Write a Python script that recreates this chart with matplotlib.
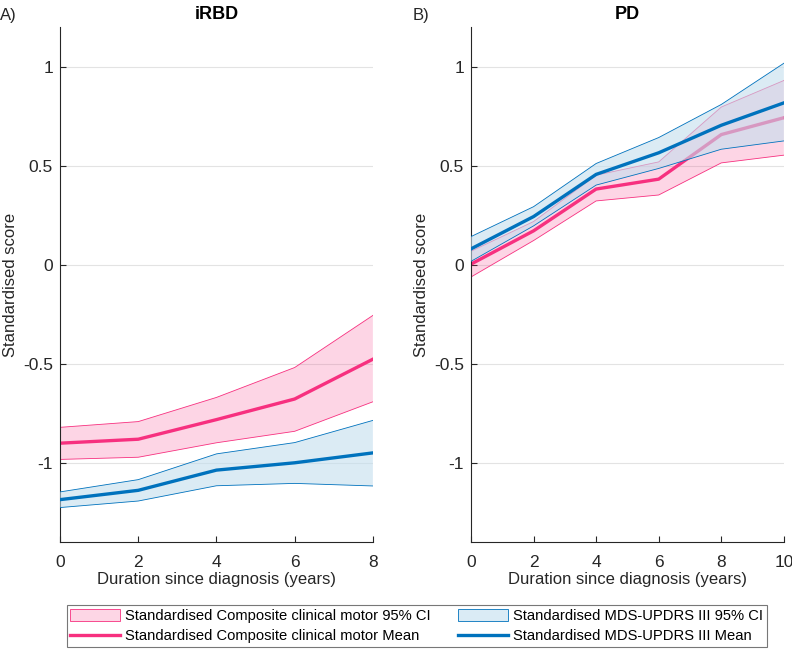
import matplotlib
matplotlib.use('Agg')
import matplotlib.pyplot as plt
import numpy as np
from matplotlib.patches import Patch
from matplotlib.lines import Line2D

plt.rcParams['font.family'] = ['Liberation Sans', 'DejaVu Sans']

# iRBD panel (years 0-8)
years_irbd = [0, 2, 4, 6, 8]
irbd_comp_mean = [-0.901, -0.881, -0.782, -0.678, -0.477]
irbd_comp_upper = [-0.821, -0.792, -0.670, -0.519, -0.256]
irbd_comp_lower = [-0.983, -0.972, -0.899, -0.841, -0.692]
irbd_updrs_mean = [-1.186, -1.139, -1.037, -1.000, -0.950]
irbd_updrs_upper = [-1.147, -1.085, -0.955, -0.898, -0.786]
irbd_updrs_lower = [-1.226, -1.193, -1.116, -1.104, -1.117]

# PD panel (years 0-10)
years_pd = [0, 2, 4, 6, 8, 10]
pd_comp_mean = [0.003, 0.171, 0.382, 0.432, 0.657, 0.742]
pd_comp_upper = [0.068, 0.218, 0.452, 0.519, 0.796, 0.930]
pd_comp_lower = [-0.062, 0.122, 0.322, 0.352, 0.514, 0.553]
pd_updrs_mean = [0.080, 0.243, 0.456, 0.565, 0.704, 0.817]
pd_updrs_upper = [0.142, 0.293, 0.511, 0.642, 0.809, 1.017]
pd_updrs_lower = [0.017, 0.196, 0.402, 0.486, 0.583, 0.625]

pink = '#F7307F'
blue = '#0072BD'
pink_fill = '#F7307F'   # at alpha 0.2 -> light pink
blue_fill = '#C3DEEE'   # at alpha 0.6 -> light blue over white
ink = '#262626'

fig = plt.figure(figsize=(7.92, 6.51), dpi=100)
ax1 = fig.add_axes([0.0758, 0.1674, 0.395, 0.7911])
ax2 = fig.add_axes([0.5947, 0.1674, 0.395, 0.7911])


def draw_panel(ax, x, cm, cu, cl, um, uu, ul, title, xmax):
    # composite first, then the MDS-UPDRS band laid over it
    ax.fill_between(x, cl, cu, facecolor=pink_fill, alpha=0.2, edgecolor='none', zorder=1)
    ax.plot(x, cu, color=pink, lw=0.6, zorder=2)
    ax.plot(x, cl, color=pink, lw=0.6, zorder=2)
    ax.plot(x, cm, color=pink, lw=2.4, solid_joinstyle='round', zorder=2)
    ax.fill_between(x, ul, uu, facecolor=blue_fill, alpha=0.6, edgecolor='none', zorder=3)
    ax.plot(x, uu, color=blue, lw=0.6, zorder=4)
    ax.plot(x, ul, color=blue, lw=0.6, zorder=4)
    ax.plot(x, um, color=blue, lw=2.4, solid_joinstyle='round', zorder=4)
    ax.set_xlim(0, xmax)
    ax.set_ylim(-1.4, 1.2)
    ax.set_xticks(x)
    ax.set_yticks([-1, -0.5, 0, 0.5, 1])
    ax.set_yticklabels(['-1', '-0.5', '0', '0.5', '1'])
    ax.yaxis.grid(True, color='#E3E3E3', lw=0.8)
    ax.set_axisbelow(True)
    for s in ['top', 'right']:
        ax.spines[s].set_visible(False)
    for s in ['left', 'bottom']:
        ax.spines[s].set_color(ink)
        ax.spines[s].set_linewidth(0.8)
    ax.tick_params(direction='in', length=4, width=0.8, colors=ink,
                   labelsize=12.5, pad=5)
    ax.tick_params(axis='x', pad=9)
    ax.set_title(title, fontsize=13, fontweight='bold', color='black', pad=6)
    ax.set_xlabel('Duration since diagnosis (years)', fontsize=12, color=ink, labelpad=2)
    ax.set_ylabel('Standardised score', fontsize=12, color=ink, labelpad=4)


draw_panel(ax1, years_irbd, irbd_comp_mean, irbd_comp_upper, irbd_comp_lower,
           irbd_updrs_mean, irbd_updrs_upper, irbd_updrs_lower, 'iRBD', 8)
draw_panel(ax2, years_pd, pd_comp_mean, pd_comp_upper, pd_comp_lower,
           pd_updrs_mean, pd_updrs_upper, pd_updrs_lower, 'PD', 10)

fig.text(0.0, 0.988, 'A)', fontsize=12, va='top', ha='left', color=ink)
fig.text(0.521, 0.988, 'B)', fontsize=12, va='top', ha='left', color=ink)

handles = [
    Patch(facecolor='#FDD6E5', edgecolor=pink, lw=0.6,
          label='Standardised Composite clinical motor 95% CI'),
    Line2D([0], [0], color=pink, lw=2.4, label='Standardised Composite clinical motor Mean'),
    Patch(facecolor='#DAEBF5', edgecolor=blue, lw=0.6,
          label='Standardised MDS-UPDRS III 95% CI'),
    Line2D([0], [0], color=blue, lw=2.4, label='Standardised MDS-UPDRS III Mean'),
]
leg = fig.legend(handles=handles, loc='center', bbox_to_anchor=(0.526, 0.038), ncol=2,
                 fontsize=10.6, frameon=True, fancybox=False, handlelength=3.4,
                 handleheight=0.9, labelspacing=0.4, columnspacing=1.9,
                 handletextpad=0.3, borderpad=0.25, borderaxespad=0)
leg.get_frame().set_edgecolor('#555555')
leg.get_frame().set_linewidth(0.8)

fig.savefig('out.png', dpi=100)
